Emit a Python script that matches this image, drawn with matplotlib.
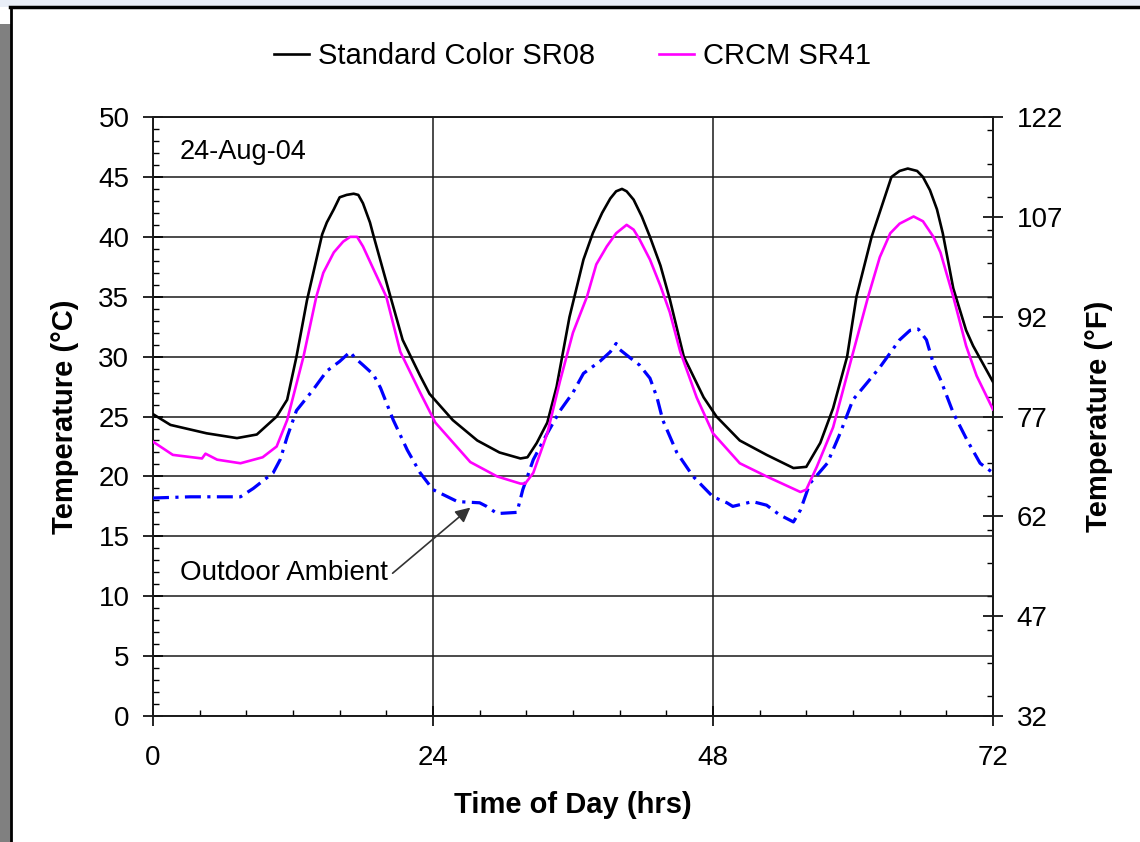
import matplotlib
matplotlib.use('Agg')
import matplotlib.pyplot as plt
from matplotlib.patches import Rectangle
from matplotlib.lines import Line2D
from matplotlib.ticker import MultipleLocator

plt.rcParams['font.family'] = ['Liberation Sans', 'DejaVu Sans']

# Standard Color SR08 (schwarz)
std_h = [0.0, 1.5, 4.6, 7.2, 8.9, 10.6, 11.5, 12.3, 13.2, 14.5, 14.9, 15.5, 16.0, 16.6, 17.2,
         17.6, 18.0, 18.6, 18.9, 20.3, 21.4, 22.9, 23.7, 25.7, 27.8, 29.7, 31.5, 32.1, 32.9,
         33.8, 34.6, 35.7, 36.9, 37.7, 38.5, 39.2, 39.7, 40.2, 40.6, 41.2, 41.9, 42.6, 43.5,
         44.3, 45.5, 47.2, 48.3, 50.3, 52.6, 54.9, 56.0, 57.2, 58.3, 59.5, 60.3, 61.6, 63.3,
         64.0, 64.7, 65.5, 66.0, 66.6, 67.2, 67.7, 68.6, 69.7, 70.3, 72.0]
std_t = [25.2, 24.3, 23.6, 23.2, 23.5, 25.0, 26.4, 30.0, 34.7, 40.2, 41.2, 42.3, 43.3, 43.5, 43.6,
         43.5, 42.8, 41.2, 40.1, 35.2, 31.4, 28.4, 26.9, 24.7, 23.0, 22.0, 21.5, 21.6, 22.8,
         24.5, 27.5, 33.3, 38.1, 40.3, 42.0, 43.2, 43.8, 44.0, 43.8, 43.1, 41.7, 40.0, 37.6,
         34.8, 30.0, 26.6, 25.0, 23.0, 21.8, 20.7, 20.8, 22.8, 25.7, 30.0, 35.0, 40.0, 45.0,
         45.5, 45.7, 45.5, 45.0, 43.9, 42.3, 40.3, 35.7, 32.2, 30.9, 27.9]

# CRCM SR41 (magenta)
crcm_h = [0.0, 1.7, 4.2, 4.5, 5.5, 7.5, 9.4, 10.6, 11.5, 12.9, 14.0, 14.6, 15.5, 16.3, 16.9,
          17.5, 18.0, 18.9, 20.0, 21.2, 22.9, 24.2, 27.2, 29.5, 31.5, 31.9, 32.6, 33.8, 34.9,
          36.0, 37.2, 38.0, 38.9, 39.7, 40.6, 41.2, 41.7, 42.6, 43.5, 44.3, 45.2, 46.6, 48.0,
          50.3, 52.6, 55.5, 56.0, 56.9, 58.3, 60.0, 61.3, 62.3, 63.2, 64.0, 65.2, 66.0, 66.9,
          67.5, 68.6, 69.7, 70.6, 72.0]
crcm_t = [22.9, 21.8, 21.5, 21.9, 21.4, 21.1, 21.6, 22.5, 24.7, 30.0, 35.0, 37.0, 38.7, 39.6, 40.0,
          40.0, 39.2, 37.3, 35.0, 30.4, 27.0, 24.5, 21.2, 20.0, 19.4, 19.4, 20.3, 23.6, 28.0,
          32.0, 35.0, 37.7, 39.2, 40.3, 41.0, 40.6, 39.8, 38.1, 35.9, 33.7, 30.4, 26.6, 23.6,
          21.1, 20.0, 18.7, 18.9, 20.8, 24.1, 30.3, 35.0, 38.3, 40.3, 41.1, 41.7, 41.3, 40.0,
          38.7, 35.0, 30.9, 28.4, 25.6]

# Outdoor Ambient (blau, strich-punkt)
amb_h = [0.0, 3.2, 6.0, 7.5, 8.6, 10.3, 10.9, 11.5, 12.3, 13.7, 14.9, 16.0, 16.9, 17.3, 18.0,
         18.9, 19.5, 20.6, 21.8, 22.9, 24.0, 26.1, 28.0, 28.6, 29.5, 31.2, 31.7, 32.6, 33.8,
         34.9, 36.0, 36.9, 38.3, 39.2, 39.7, 40.0, 40.9, 41.7, 42.6, 43.2, 43.7, 44.9, 46.3,
         46.9, 48.0, 49.2, 49.7, 51.4, 52.6, 53.7, 54.9, 55.5, 56.3, 57.8, 58.9, 60.0, 61.2,
         62.3, 64.0, 64.9, 65.6, 66.3, 66.9, 67.5, 68.6, 69.8, 70.9, 72.0]
amb_t = [18.2, 18.3, 18.3, 18.3, 19.0, 20.3, 21.4, 23.3, 25.5, 27.2, 28.8, 29.6, 30.4, 29.9, 29.3,
         28.5, 27.4, 24.7, 22.2, 20.3, 18.9, 17.9, 17.8, 17.5, 16.9, 17.0, 18.9, 21.4, 23.6,
         25.5, 27.0, 28.6, 29.6, 30.4, 31.1, 30.6, 29.9, 29.3, 28.2, 26.6, 24.7, 22.0, 20.0,
         19.4, 18.3, 17.8, 17.5, 17.9, 17.6, 16.8, 16.2, 17.2, 19.4, 21.1, 23.6, 26.4, 27.8,
         29.1, 31.4, 32.2, 32.3, 31.4, 29.4, 28.1, 25.3, 23.0, 21.1, 20.3]

x_ticks = [0, 24, 48, 72]
f_ticks = [32, 47, 62, 77, 92, 107, 122]


def c2f(c):
    return c * 9 / 5 + 32


def f2c(f):
    return (f - 32) * 5 / 9


fig = plt.figure(figsize=(11.4, 8.42), dpi=100)

# rahmen vom screenshot
fig.add_artist(Rectangle((0, 0), 0.0095, 0.972, transform=fig.transFigure, color='#808080', lw=0))
fig.add_artist(Rectangle((0, 0.992), 1, 0.008, transform=fig.transFigure, color='#e9eef7', lw=0))
fig.add_artist(Line2D([0.0100, 0.0100], [0, 0.992], transform=fig.transFigure, color='black', lw=2.0))
fig.add_artist(Line2D([0.009, 1], [0.9915, 0.9915], transform=fig.transFigure, color='black', lw=2.5))

ax = fig.add_axes([0.1342, 0.1496, 0.7368, 0.7114])

ax.plot(amb_h, amb_t, color='#0000ff', lw=2.3, linestyle=(0, (5, 2, 1, 2)), zorder=3)
ax.plot(std_h, std_t, color='black', lw=1.9, label='Standard Color SR08', zorder=4)
ax.plot(crcm_h, crcm_t, color='#ff00ff', lw=1.9, label='CRCM SR41', zorder=4)

ax.set_xlim(0, 72)
ax.set_ylim(0, 50)
ax.set_xticks(x_ticks)
ax.xaxis.set_minor_locator(MultipleLocator(4))
ax.yaxis.set_major_locator(MultipleLocator(5))
ax.yaxis.set_minor_locator(MultipleLocator(1))

ax.grid(True, which='major', color='#1a1a1a', lw=1.1)
for s in ax.spines.values():
    s.set_linewidth(1.4)
    s.set_color('#1a1a1a')

ax.tick_params(which='major', direction='inout', length=14, width=1.2, labelsize=20, pad=10)
ax.tick_params(which='minor', direction='in', length=4, width=1.0)
ax.tick_params(axis='y', right=False, which='both')
ax.tick_params(axis='x', which='major', pad=14)

sec = ax.secondary_yaxis('right', functions=(c2f, f2c))
sec.set_yticks(f_ticks)
sec.yaxis.set_minor_locator(MultipleLocator(5))
sec.tick_params(which='major', direction='inout', length=14, width=1.2, labelsize=20, pad=10)
sec.tick_params(which='minor', direction='in', length=4, width=1.0)
sec.spines['right'].set_linewidth(1.4)
sec.spines['right'].set_color('#1a1a1a')

ax.set_xlabel('Time of Day (hrs)', fontsize=21, fontweight='bold', labelpad=14)
ax.set_ylabel('Temperature (°C)', fontsize=21, fontweight='bold', labelpad=14)
sec.set_ylabel('Temperature (°F)', fontsize=21, fontweight='bold', labelpad=16)

ax.text(2.3, 47.1, '24-Aug-04', fontsize=19.5, ha='left', va='center')
ax.annotate('Outdoor Ambient', xy=(27.2, 17.4), xytext=(2.3, 11.9), fontsize=20,
            ha='left', va='center',
            arrowprops=dict(arrowstyle='-|>', color='#333333', lw=1.2, mutation_scale=22,
                            shrinkA=2, shrinkB=0, relpos=(1.0, 0.35)))

fig.legend(loc='center', bbox_to_anchor=(0.502, 0.933), ncol=2, frameon=False, fontsize=21,
           handlelength=1.2, handletextpad=0.3, columnspacing=2.2)

fig.savefig('out.png', dpi=100, facecolor='white')
